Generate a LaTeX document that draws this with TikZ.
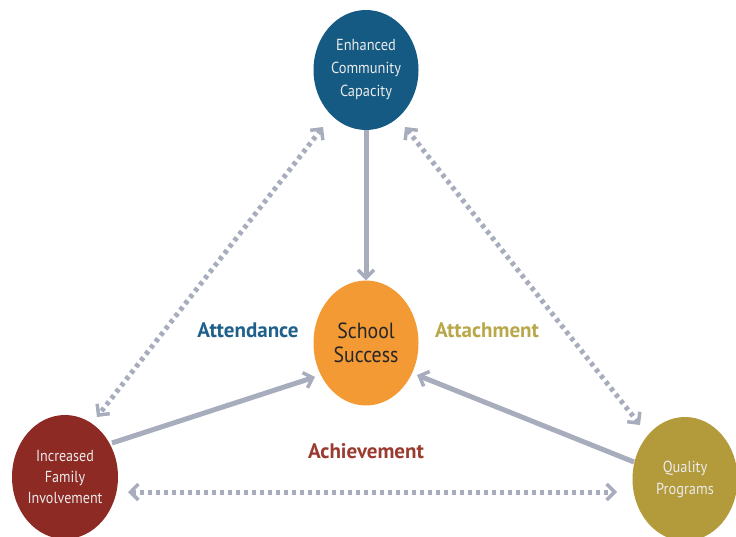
\documentclass[tikz,border=0pt]{standalone}
\usepackage{fontspec}
\setmainfont{PT Sans}
\usetikzlibrary{shapes.geometric,arrows.meta}
\definecolor{cblue}{HTML}{155A82}
\definecolor{corange}{HTML}{F39A35}
\definecolor{cred}{HTML}{8E2A24}
\definecolor{cgold}{HTML}{B39A3A}
\definecolor{cgray}{HTML}{A7ADBD}
\definecolor{lblue}{HTML}{1F5F8B}
\definecolor{lgold}{HTML}{B8A84A}
\definecolor{lred}{HTML}{9B3A2F}
\tikzset{
  bubble/.style={ellipse, minimum width=105pt, minimum height=122pt, inner sep=0pt, align=center, text=white!92!black},
  tip/.tip={Straight Barb[length=8pt,width=16pt,line width=3.5pt]},
  solidarrow/.style={draw=cgray, line width=5pt, -tip},
  dasharrow/.style={draw=cgray, line width=5pt, dash pattern=on 4pt off 4pt, tip-tip},
  sublabel/.style={font=\bfseries\fontsize{21}{22}\selectfont}
}
\begin{document}
\begin{tikzpicture}[x=1pt,y=-1pt]
\useasboundingbox (0,0) rectangle (736,537);
\clip (0,0) rectangle (736,537);
\node[bubble, fill=cblue, minimum height=120pt, font=\fontsize{16}{23}\selectfont] (top) at (366,70) {\scalebox{0.9}[1]{Enhanced}\\\scalebox{0.9}[1]{Community}\\\scalebox{0.9}[1]{Capacity}};
\node[bubble, fill=corange, minimum height=125pt, text=black!85, font=\fontsize{22}{24}\selectfont] (mid) at (366,343) {\scalebox{0.9}[1]{School}\\\scalebox{0.9}[1]{Success}};
\node[bubble, fill=cred, minimum height=124pt, font=\fontsize{16}{21}\selectfont] (left) at (65,477) {\scalebox{0.88}[1]{Increased}\\\scalebox{0.88}[1]{Family}\\\scalebox{0.88}[1]{Involvement}};
\node[bubble, fill=cgold, minimum height=124pt, font=\fontsize{16}{22}\selectfont] (right) at (685,479) {\scalebox{0.9}[1]{Quality}\\\scalebox{0.9}[1]{Programs}};

\coordinate (t1) at (323,127);
\coordinate (l1) at (97,417);
\coordinate (t2) at (405,127);
\coordinate (r1) at (640,425);
\coordinate (l2) at (128,492);
\coordinate (r2) at (617,492);
\coordinate (ls) at (112,443);
\coordinate (le) at (315,377);
\coordinate (rs) at (634,462);
\coordinate (re) at (417,375);

\draw[solidarrow] (top.south) -- (mid.north);
\draw[solidarrow] (ls) -- (le);
\draw[solidarrow] (rs) -- (re);
\draw[dasharrow] (t1) -- (l1);
\draw[dasharrow] (t2) -- (r1);
\draw[dasharrow] (l2) -- (r2);

\node[sublabel, text=lblue] (att) at (248,330) {Attendance};
\node[sublabel, text=lgold] (atc) at (487,330) {Attachment};
\node[sublabel, text=lred] (ach) at (366,451) {Achievement};
\end{tikzpicture}
\end{document}
